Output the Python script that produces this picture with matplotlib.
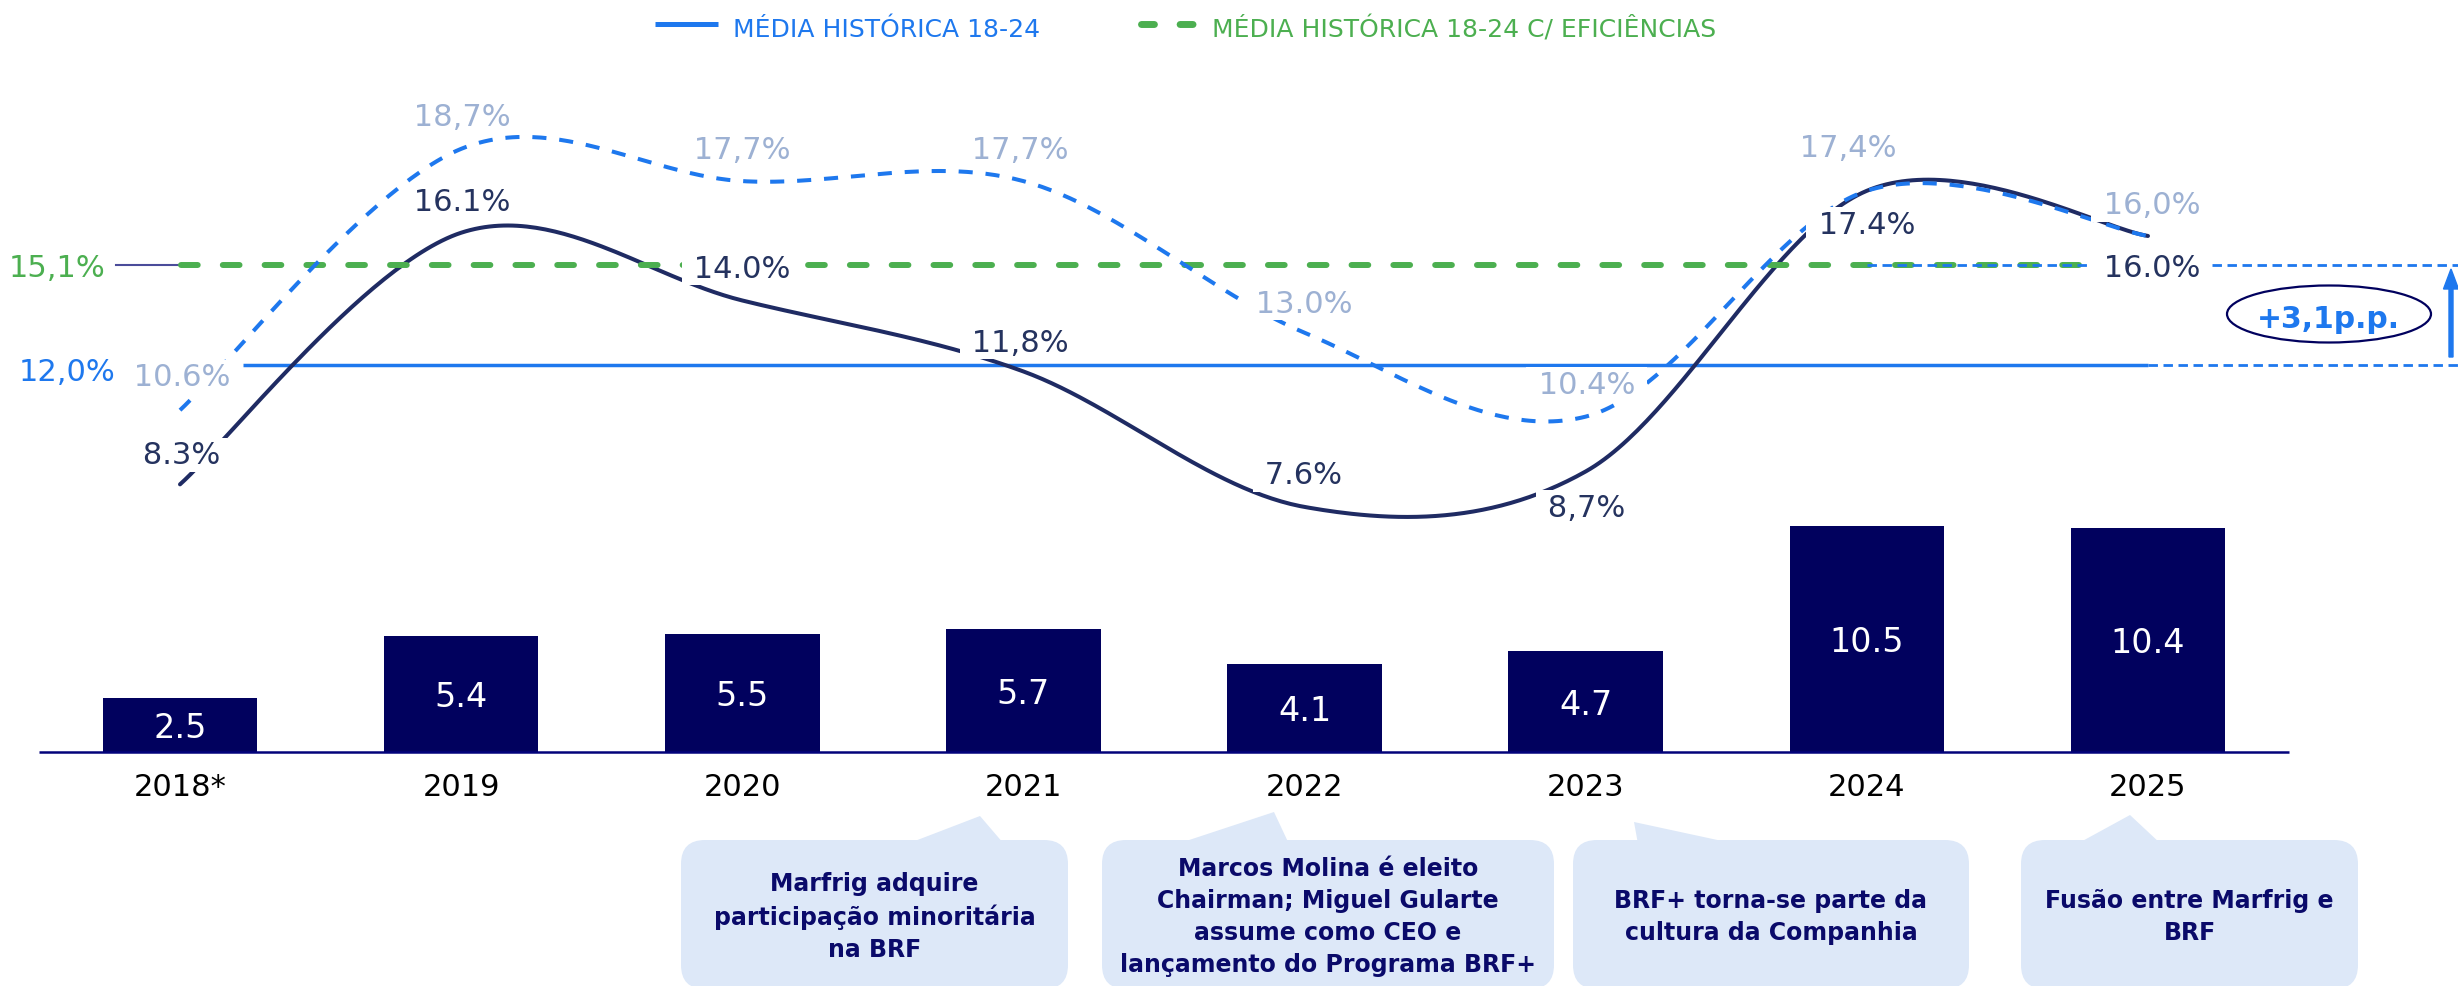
import numpy as np
import matplotlib
matplotlib.use('Agg')
import matplotlib.pyplot as plt
from matplotlib.patches import FancyBboxPatch, Polygon, Ellipse, FancyArrow
from matplotlib.transforms import blended_transform_factory

# ---------------- data ----------------
years = ['2018*', '2019', '2020', '2021', '2022', '2023', '2024', '2025']
bar_values = [2.5, 5.4, 5.5, 5.7, 4.1, 4.7, 10.5, 10.4]
margin_actual = [8.3, 16.1, 14.0, 11.8, 7.6, 8.7, 17.4, 16.0]
margin_actual_labels = ['8.3%', '16.1%', '14.0%', '11,8%', '7.6%', '8,7%', '17.4%', '16.0%']
margin_eff = [10.6, 18.7, 17.7, 17.7, 13.0, 10.4, 17.4, 16.0]
margin_eff_labels = ['10.6%', '18,7%', '17,7%', '17,7%', '13.0%', '10.4%', '17,4%', '16,0%']
hist_avg = 12.0
hist_avg_label = '12,0%'
hist_avg_eff = 15.1
hist_avg_eff_label = '15,1%'
delta_label = '+3,1p.p.'
legend_labels = ['MÉDIA HISTÓRICA 18-24', 'MÉDIA HISTÓRICA 18-24 C/ EFICIÊNCIAS']
callout_texts = [
    'Marfrig adquire\nparticipação minoritária\nna BRF',
    'Marcos Molina é eleito\nChairman; Miguel Gularte\nassume como CEO e\nlançamento do Programa BRF+',
    'BRF+ torna-se parte da\ncultura da Companhia',
    'Fusão entre Marfrig e\nBRF',
]

# ---------------- styles / layout ----------------
W, H, DPI = 2458, 987, 100
NAVY_BAR = '#01015E'
DARK_LINE = '#1F2B63'
DARK_TXT = '#25335F'
LIGHT_TXT = '#9DB1D3'
BLUE = '#1E78EE'
GREEN = '#4CAF50'
CALLOUT_BG = '#DDE8F8'
CALLOUT_TXT = '#0A0A6A'

# label offsets (pixels, dx, dy-up of visual centre)
act_off = [(2, 32), (1, 34), (0, 35), (-3, 32), (-1, 35), (1, -33), (0, -31), (4, -29)]
eff_off = [(2, 36), (1, 35), (0, 34), (-3, 34), (0, 32), (1, 35), (-19, 46), (4, 34)]

callout_boxes = [(681, 1068), (1102, 1554), (1573, 1969), (2021, 2358)]
callout_ptrs = [((980, 817), 907, 1004), ((1274, 813), 1177, 1289),
                ((1634, 823), 1638, 1736), ((2130, 816), 2077, 2161)]

def cap(fs):
    return fs * DPI / 72 * 0.729

def catmull_rom(x, y, n=60):
    P = np.column_stack([x, y]).astype(float)
    P = np.vstack([P[0], P, P[-1]])
    out = []
    for i in range(1, len(P) - 2):
        p0, p1, p2, p3 = P[i - 1], P[i], P[i + 1], P[i + 2]
        t = np.linspace(0, 1, n, endpoint=(i == len(P) - 3))[:, None]
        seg = 0.5 * ((2 * p1) + (-p0 + p2) * t + (2 * p0 - 5 * p1 + 4 * p2 - p3) * t ** 2
                     + (-p0 + 3 * p1 - 3 * p2 + p3) * t ** 3)
        out.append(seg)
    return np.vstack(out)

plt.rcParams['font.family'] = ['DejaVu Sans']
fig = plt.figure(figsize=(W / DPI, H / DPI), dpi=DPI, facecolor='white')

step = 281.14
x0px = 180.0
xlim = (-x0px / step, (W - x0px) / step)
x = np.arange(len(years))

# bar axes
ax_bar = fig.add_axes([0, 0, 1, 1])
ax_bar.set_xlim(*xlim)
bpu = 21.5
base_px = 753
ax_bar.set_ylim(-(H - base_px) / bpu, base_px / bpu)
ax_bar.axis('off')

# line axes
ax_line = fig.add_axes([0, 0, 1, 1])
ax_line.set_xlim(*xlim)
lpu = 32.26
ref_px = 366
ax_line.set_ylim(hist_avg - (H - ref_px) / lpu, hist_avg + ref_px / lpu)
ax_line.axis('off')
ax_line.patch.set_visible(False)

# pixel axes
ax_px = fig.add_axes([0, 0, 1, 1])
ax_px.set_xlim(0, W)
ax_px.set_ylim(H, 0)
ax_px.axis('off')
ax_px.patch.set_visible(False)

# ---------------- bars ----------------
ax_bar.bar(x, bar_values, width=0.55, color=NAVY_BAR, zorder=2)
ax_bar.plot([-0.5, len(years) - 0.5], [0, 0], color='#02027A', lw=1.8, zorder=3,
            solid_capstyle='butt')
for i, v in enumerate(bar_values):
    ax_bar.annotate(f'{v:.1f}', (i, v / 2), xytext=(0, -cap(24) / 2), textcoords='offset pixels',
                    ha='center', va='baseline', color='white', fontsize=24, zorder=4)
for i, yr in enumerate(years):
    ax_bar.annotate(yr, (i, 0), xytext=(0, -32 - cap(22) / 2), textcoords='offset pixels',
                    ha='center', va='baseline', color='black', fontsize=22)

# ---------------- lines ----------------
ax_line.plot([0.224, 7.0], [hist_avg, hist_avg], color=BLUE, lw=2.5, zorder=2,
             solid_capstyle='butt')
ax_line.plot([-0.228, -0.008], [hist_avg_eff, hist_avg_eff], color='#4B4C9A', lw=1.5, zorder=2)
gl, = ax_line.plot([0.005, 6.95], [hist_avg_eff, hist_avg_eff], color=GREEN, lw=4.3, zorder=3.5,
                   dash_capstyle='round')
gl.set_dashes((2.8, 4.2))

ca = catmull_rom(x, margin_actual)
ax_line.plot(ca[:, 0], ca[:, 1], color=DARK_LINE, lw=2.9, zorder=3, solid_capstyle='round')
ce = catmull_rom(x, margin_eff)
el, = ax_line.plot(ce[:, 0], ce[:, 1], color=BLUE, lw=2.9, zorder=4)
el.set_dashes((3.5, 3.2))

for yv, xs in [(hist_avg_eff, 6.0), (hist_avg, 7.0)]:
    dl, = ax_line.plot([xs, xlim[1] + 0.1], [yv, yv], color=BLUE, lw=2.0, zorder=4.5)
    dl.set_dashes((3.4, 2.0))

bb = dict(boxstyle='square,pad=0.08', fc='white', ec='none')
for i, (v, s) in enumerate(zip(margin_actual, margin_actual_labels)):
    dx, dy = act_off[i]
    ax_line.annotate(f' {s} ', (i, v), xytext=(dx, dy - cap(22) / 2), textcoords='offset pixels',
                     ha='center', va='baseline', color=DARK_TXT, fontsize=22, zorder=6, bbox=bb)
for i, (v, s) in enumerate(zip(margin_eff, margin_eff_labels)):
    dx, dy = eff_off[i]
    ax_line.annotate(f' {s} ', (i, v), xytext=(dx, dy - cap(22) / 2), textcoords='offset pixels',
                     ha='center', va='baseline', color=LIGHT_TXT, fontsize=22, zorder=6, bbox=bb)

tr = blended_transform_factory(ax_px.transData, ax_line.transData)
ax_line.annotate(hist_avg_eff_label, (57, hist_avg_eff), xycoords=tr, xytext=(0, -cap(22) / 2),
                 textcoords='offset pixels', ha='center', va='baseline', color=GREEN, fontsize=22)
ax_line.annotate(hist_avg_label, (67, hist_avg), xycoords=tr, xytext=(0, -4 - cap(22) / 2),
                 textcoords='offset pixels', ha='center', va='baseline', color=BLUE, fontsize=22)

# ---------------- delta annotation ----------------
ax_px.add_patch(Ellipse((2329, 315), 204, 57, fc='white', ec=NAVY_BAR, lw=1.6, zorder=5))
ax_px.text(2328, 317 + cap(21.5) / 2, delta_label, ha='center', va='baseline', color=BLUE,
           fontsize=21.5, fontweight='bold', zorder=6)
ax_px.add_patch(FancyArrow(2451, 358, 0, -88, width=4, head_width=15, head_length=20,
                           length_includes_head=True, color=BLUE, zorder=5))

# ---------------- legend ----------------
ax_px.plot([655, 718], [25, 25], color=BLUE, lw=3.6, solid_capstyle='butt')
ax_px.text(733, 37, legend_labels[0], ha='left', va='baseline', color=BLUE, fontsize=18)
lg, = ax_px.plot([1140.5, 1196.5], [25, 25], color=GREEN, lw=5.0, dash_capstyle='round')
lg.set_dashes((1.86, 3.7))
ax_px.text(1212, 37, legend_labels[1], ha='left', va='baseline', color=GREEN, fontsize=18)

# ---------------- callouts ----------------
top, bottom = 841, 990
for txt, (bx0, bx1), (apex, bl, br) in zip(callout_texts, callout_boxes, callout_ptrs):
    ax_px.add_patch(FancyBboxPatch((bx0, top), bx1 - bx0, bottom - top,
                                   boxstyle='round,pad=0,rounding_size=24',
                                   fc=CALLOUT_BG, ec='none', zorder=2))
    ax_px.add_patch(Polygon([(bl, top + 4), apex, (br, top + 4)], closed=True,
                            fc=CALLOUT_BG, ec='none', zorder=2))
    ax_px.text((bx0 + bx1) / 2, 917, txt, ha='center', va='center', multialignment='center',
               linespacing=1.42, fontsize=17, fontweight='bold', color=CALLOUT_TXT, zorder=3)

fig.savefig('out.png', dpi=DPI, facecolor='white')
